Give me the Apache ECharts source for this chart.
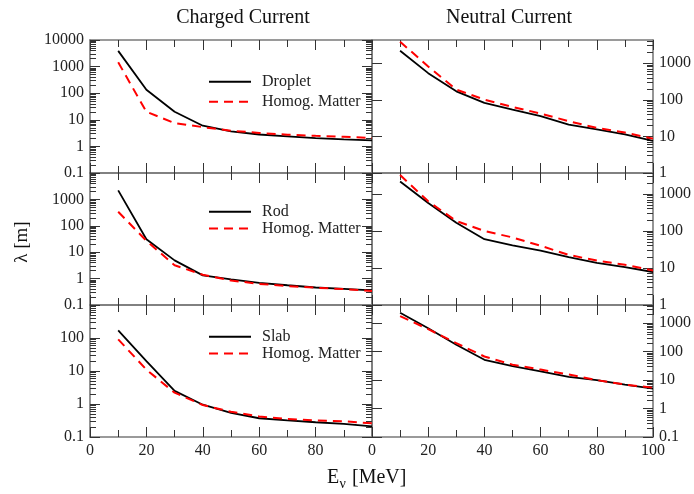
<!DOCTYPE html>
<html><head><meta charset="utf-8">
<script src="https://cdn.jsdelivr.net/npm/echarts@6/dist/echarts.min.js"></script>
<style>html,body{margin:0;padding:0;background:#fff}#c{width:694px;height:494px}</style>
</head><body><div id="c"></div>
<script>
// ---------------- data ----------------
const energies = [10, 20, 30, 40, 50, 60, 70, 80, 90, 100];

const ccDroplet      = [3900, 134, 20, 6.0, 3.65, 2.8, 2.4, 2.06, 1.83, 1.68];
const ccDropletHomog = [1450, 20, 7.5, 5.3, 3.9, 3.2, 2.75, 2.5, 2.3, 2.06];
const ccRod          = [2200, 31, 4.9, 1.33, 0.93, 0.69, 0.56, 0.46, 0.41, 0.36];
const ccRodHomog     = [340, 27, 3.2, 1.4, 0.85, 0.63, 0.52, 0.45, 0.40, 0.34];
const ccSlab         = [171, 20, 2.5, 0.95, 0.54, 0.37, 0.32, 0.28, 0.25, 0.21];
const ccSlabHomog    = [91, 11, 2.2, 0.93, 0.58, 0.42, 0.35, 0.32, 0.30, 0.26];

const ncDroplet      = [2190, 535, 170, 82, 54, 36, 21, 15.6, 11.4, 7.5];
const ncDropletHomog = [3870, 810, 190, 101, 64, 42, 26, 17, 12.7, 8.7];
const ncRod          = [2180, 575, 168, 60, 41, 29.5, 19.6, 13.8, 10.6, 7.8];
const ncRodHomog     = [3260, 635, 186, 100, 67, 40, 22.6, 15.9, 12.2, 8.6];
const ncSlab         = [2340, 670, 175, 52, 31, 20.5, 13, 10, 7, 5];
const ncSlabHomog    = [1790, 620, 200, 68, 35, 23.5, 15.8, 10, 7, 5.4];

const structureNames = ['Droplet', 'Rod', 'Slab'];
const homogName = 'Homog. Matter';
const columnTitles = ['Charged Current', 'Neutral Current'];
const yAxisTitle = 'λ [m]';
const xAxisTitleParts = ['E', 'ν', ' [MeV]'];

// ---------------- layout ----------------
const FONT = 'Liberation Serif';
const panels = [
  [ [ccDroplet, ccDropletHomog], [ncDroplet, ncDropletHomog] ],
  [ [ccRod, ccRodHomog],         [ncRod, ncRodHomog] ],
  [ [ccSlab, ccSlabHomog],       [ncSlab, ncSlabHomog] ]
];
const colLeft = [90, 372], colWidth = [282, 283];
const rowTop = [40, 173, 305], rowHeight = [133, 132, 132];
const yRange = [
  [[0.1, 10000], [1, 4300]],
  [[0.1, 10000], [1, 3700]],
  [[0.1, 1000],  [0.1, 4400]]
];
const yLabelMax = [[10000, 1000], [1000, 1000], [100, 1000]];

function majors(min, max) {
  const out = [];
  for (let k = -3; k <= 6; k++) { const v = Math.pow(10, k); if (v >= min * 0.999 && v <= max * 1.001) out.push(+v.toPrecision(6)); }
  return out;
}
function minors(min, max) {
  const out = [];
  for (let k = -3; k <= 6; k++) for (let m = 2; m <= 9; m++) {
    const v = +(m * Math.pow(10, k)).toPrecision(6);
    if (v > min && v < max) out.push(v);
  }
  return out;
}
const AXC = '#7a7a7a', TICKC = '#333';
const fmt = v => String(+(+v).toPrecision(6));

const grids = [], xAxes = [], yAxes = [], series = [];
for (let r = 0; r < 3; r++) {
  for (let c = 0; c < 2; c++) {
    const g = grids.length;
    grids.push({ left: colLeft[c], top: rowTop[r], width: colWidth[c], height: rowHeight[r], containLabel: false });
    const [ymin, ymax] = yRange[r][c];
    ['bottom', 'top'].forEach(pos => {
      const showLab = pos === 'bottom' && r === 2;
      xAxes.push({
        type: 'value', gridIndex: g, position: pos, min: 0, max: 100, interval: 20,
        axisLine: { show: true, onZero: false, lineStyle: { color: AXC, width: 1.6 } },
        axisTick: { show: true, inside: true, length: 10, lineStyle: { color: TICKC, width: 1 } },
        minorTick: { show: true, splitNumber: 2, length: 7, lineStyle: { color: TICKC, width: 1 } },
        splitLine: { show: false }, minorSplitLine: { show: false },
        axisLabel: { show: showLab, margin: 6, fontFamily: FONT, fontSize: 16, color: '#222',
                     showMaxLabel: c === 1, showMinLabel: true }
      });
    });
    const maj = majors(ymin, ymax);
    const labVals = maj.filter(v => v <= yLabelMax[r][c]);
    const mkY = (pos, isMajor, showLab, showTicks) => ({
      type: 'log', logBase: 10, gridIndex: g, position: pos, min: ymin, max: ymax,
      axisLine: { show: isMajor, lineStyle: { color: AXC, width: 1.6 } },
      axisTick: { show: showTicks, inside: true, length: isMajor ? 10 : 6,
                  customValues: isMajor ? maj : minors(ymin, ymax), lineStyle: { color: TICKC, width: 1 } },
      minorTick: { show: false },
      splitLine: { show: false },
      axisLabel: { show: showLab, customValues: labVals, formatter: fmt, margin: 6,
                   fontFamily: FONT, fontSize: 16, color: '#222' }
    });
    const yLeftMajor = yAxes.length;
    yAxes.push(mkY('left', true, c === 0, true));
    yAxes.push(mkY('left', false, false, c === 0));
    yAxes.push(mkY('right', true, c === 1, true));
    yAxes.push(mkY('right', false, false, true));
    const [main, homog] = panels[r][c];
    series.push({
      type: 'line', name: structureNames[r], xAxisIndex: 2 * g, yAxisIndex: yLeftMajor,
      data: energies.map((e, i) => [e, main[i]]), showSymbol: false, symbol: 'none',
      lineStyle: { color: '#000', width: 1.8 }, itemStyle: { color: '#000' }, z: 3
    });
    series.push({
      type: 'line', name: homogName, xAxisIndex: 2 * g, yAxisIndex: yLeftMajor,
      data: energies.map((e, i) => [e, homog[i]]), showSymbol: false, symbol: 'none',
      lineStyle: { color: '#ff0000', width: 2, type: [9, 6] }, itemStyle: { color: '#ff0000' }, z: 4
    });
  }
}

const legendTops = [73.7, 203.7, 328.7];
const legendGaps = [4, 0.7, 0.7];
const legends = structureNames.map((nm, r) => ({
  orient: 'vertical', left: 208, top: legendTops[r], padding: 0,
  itemWidth: 42, itemHeight: 14, itemGap: legendGaps[r],
  selectedMode: false, data: [nm, homogName],
  itemStyle: { opacity: 0 },
  textStyle: { fontFamily: FONT, fontSize: 16, color: '#222', lineHeight: 16, padding: [0, 0, 0, 6] }
}));

const TXT = '#111';
const graphics = [
  { type: 'text', x: 243, y: 18, style: { text: columnTitles[0], font: '20px "Liberation Serif"', fill: TXT, align: 'center', verticalAlign: 'middle' } },
  { type: 'text', x: 509, y: 18, style: { text: columnTitles[1], font: '20px "Liberation Serif"', fill: TXT, align: 'center', verticalAlign: 'middle' } },
  { type: 'text', x: 22, y: 242, rotation: Math.PI / 2, style: { text: yAxisTitle, font: '19px "Liberation Serif"', fill: TXT, align: 'center', verticalAlign: 'middle' } },
  { type: 'text', x: 327, y: 478, style: { text: xAxisTitleParts[0], font: '20px "Liberation Serif"', fill: TXT, align: 'left', verticalAlign: 'middle' } },
  { type: 'text', x: 339.5, y: 484, style: { text: xAxisTitleParts[1], font: '14px "Liberation Serif"', fill: TXT, align: 'left', verticalAlign: 'middle' } },
  { type: 'text', x: 347, y: 478, style: { text: xAxisTitleParts[2], font: '20px "Liberation Serif"', fill: TXT, align: 'left', verticalAlign: 'middle' } }
];

const chart = echarts.init(document.getElementById('c'), null, { renderer: 'canvas' });
chart.setOption({
  animation: false, backgroundColor: '#fff',
  grid: grids, xAxis: xAxes, yAxis: yAxes, series: series, legend: legends, graphic: graphics
});
</script></body></html>
